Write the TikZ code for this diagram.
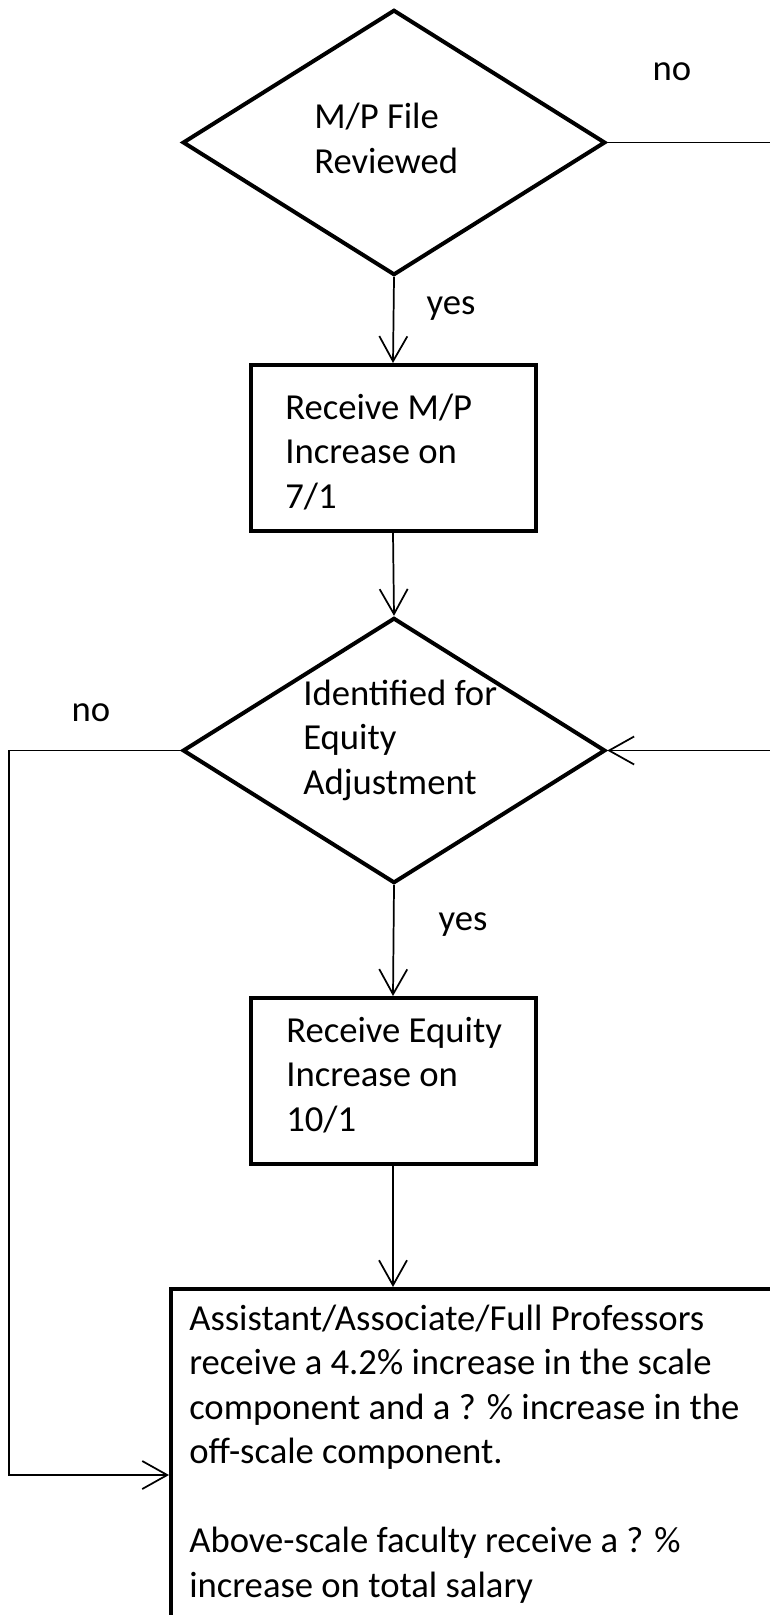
\documentclass[tikz,border=0pt]{standalone}
\usepackage{fontspec}
\setmainfont{Carlito}
\usetikzlibrary{shapes.geometric,arrows.meta}
\begin{document}
\begin{tikzpicture}[x=0.75pt,y=-0.75pt,
  shapeline/.style={draw=black, line width=3pt, line join=miter},
  decision/.style={shapeline, diamond, minimum width=317pt, minimum height=199pt, inner sep=0pt},
  procbox/.style={shapeline, rectangle, minimum width=213.75pt, minimum height=124.5pt, inner sep=0pt},
  conn/.style={draw=black, line width=1.3pt},
  arr/.style={-{Straight Barb[length=18.75pt,width=21pt,line width=1.3pt]}},
  txt/.style={inner sep=0pt, font=\fontsize{27.5pt}{33.4pt}\selectfont},
]
\useasboundingbox (0,0) rectangle (770,1615);
\clip (0,0) rectangle (770,1615);

% shapes
\node[decision] (d1) at (394,142.5) {};
\node[procbox] (b1) at (393,448) {};
\node[decision] (d2) at (394,750.5) {};
\node[procbox] (b2) at (393,1081) {};
\node[shapeline, rectangle, anchor=north west, minimum width=525pt, minimum height=375pt, inner sep=0pt] (b3) at (169,1287) {};

% texts
\node[txt, anchor=base west] (t1) at (314,129) {\parbox[t]{200pt}{M/P File\\Reviewed}};
\node[txt, anchor=base west] (t2) at (285,419) {\parbox[t]{200pt}{Receive M/P\\Increase on\\7/1}};
\node[txt, anchor=base west] (t3) at (303,705) {\parbox[t]{200pt}{Identified for\\Equity\\Adjustment}};
\node[txt, anchor=base west] (t4) at (286,1042) {\parbox[t]{200pt}{Receive Equity\\Increase on\\10/1}};
\node[txt, anchor=base west] (t5) at (189,1330) {\parbox[t]{440pt}{Assistant/Associate/Full Professors\\receive a 4.2\% increase in the scale\\component and a ? \% increase in the\\off-scale component.\\[33.4pt]Above-scale faculty receive a ? \%\\increase on total salary}};

% labels
\node[txt, anchor=base] (no1) at (672,81) {no};
\node[txt, anchor=base] (yes1) at (451,315) {yes};
\node[txt, anchor=base] (no2) at (91,721) {no};
\node[txt, anchor=base] (yes2) at (463,930) {yes};

% connectors
\coordinate (rx) at (820,0);
\coordinate (lx) at (9,1475);
\draw[conn, arr] (d1.south) -- (b1.north);
\draw[conn, arr] (b1.south) -- (d2.north);
\draw[conn, arr] (d2.south) -- (b2.north);
\draw[conn, arr] (b2.south) -- (b2.south |- b3.north);
\draw[conn, arr] (d1.east) -| (rx |- d2.east) -- (d2.east);
\draw[conn, arr] (d2.west) -| (lx) -- (lx -| b3.west);
\end{tikzpicture}
\end{document}
